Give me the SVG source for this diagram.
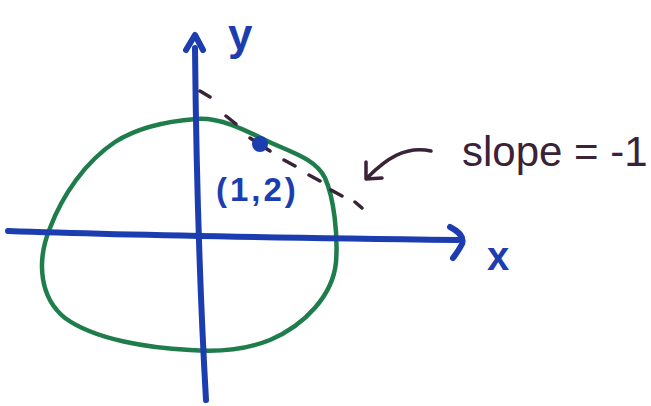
<svg xmlns="http://www.w3.org/2000/svg" width="651" height="406" viewBox="0 0 651 406">
<style>
.blue{fill:none;stroke:#1c3db0;stroke-width:6;stroke-linecap:round;stroke-linejoin:round}
.green{fill:none;stroke:#1f7d4c;stroke-width:4.5;stroke-linecap:round;stroke-linejoin:round}
.ink{fill:none;stroke:#3a2238;stroke-width:3.5;stroke-linecap:round;stroke-linejoin:round}
.lbl{font-family:"Liberation Sans",Arial,sans-serif;fill:#1c3db0;font-weight:bold}
.note{font-family:"Liberation Sans",Arial,sans-serif;fill:#3a2238}
</style>
<rect width="651" height="406" fill="#fff"/>
<path class="green" d="M196,119 C220,117 245,130 265,140 C290,152 315,158 325,178 C334,198 338,235 336,262 C333,295 305,325 270,340 C245,350 215,352 190,350 C150,348 95,340 65,318 C40,298 36,262 50,228 C62,196 85,162 115,142 C140,126 170,121 196,119 Z"/>
<path class="blue" d="M8,231 C120,235 300,238 458,240"/>
<path class="blue" d="M450,227 C460,232 464,238 462,244 C459,250 456,254 453,258"/>
<path class="blue" d="M195,48 C196,150 198,260 206,400"/>
<path class="blue" d="M186,50 L195,35 L203,50"/>
<path class="ink" d="M200,91 L210,97 M226,116 L236,124 M250,138 L270,151 M284,160 L295,166 M309,175 L320,181 M331,190 L342,196 M355,202 L362,208"/>
<circle cx="260" cy="144" r="8" fill="#1c3db0"/>
<path class="ink" d="M431,151 C405,145 385,160 368,177"/>
<path class="ink" d="M366,162 L366,179 L382,178"/>
<text class="lbl" x="228" y="50" font-size="44">y</text>
<text class="lbl" x="487" y="270" font-size="40">x</text>
<text class="lbl" x="216" y="201" font-size="33" letter-spacing="3">(1,2)</text>
<text class="note" x="462" y="166" font-size="42">slope = -1</text>
</svg>
